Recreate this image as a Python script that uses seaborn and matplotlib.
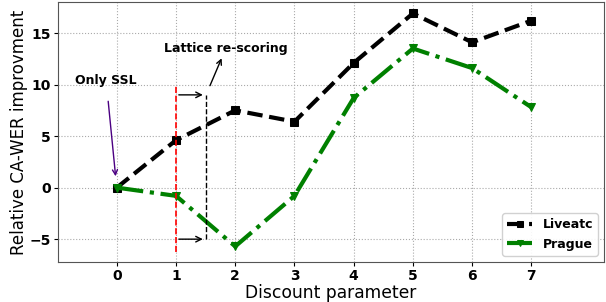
import numpy as np
import matplotlib
matplotlib.use("Agg")
import matplotlib.pyplot as plt
import seaborn as sns

# discount parameter values
discount = [0, 1, 2, 3, 4, 5, 6, 7]
# relative CA-WER improvement per dataset
liveatc = [0.0, 4.6, 7.5, 6.4, 12.1, 16.9, 14.1, 16.2]
prague = [0.0, -0.8, -5.7, -0.8, 8.7, 13.5, 11.6, 7.8]

sns.set_style("ticks")
plt.rcParams["font.family"] = ["DejaVu Sans"]
plt.rcParams.update({"text.color": "black", "axes.labelcolor": "black",
                     "xtick.color": "black", "ytick.color": "black"})

fig, ax = plt.subplots(figsize=(6.06, 3.02), dpi=100)

sns.lineplot(x=discount, y=liveatc, ax=ax, color="black", linestyle="--",
             linewidth=3, marker="s", markersize=6, markeredgecolor="black",
             label="Liveatc")
sns.lineplot(x=discount, y=prague, ax=ax, color="green", linestyle="-.",
             linewidth=3, marker="v", markersize=6, markeredgecolor="green",
             label="Prague")

# rescoring markers
ax.vlines(1, -6.2, 10, colors="red", linestyles="--", linewidth=1.2)
ax.vlines(1.5, -5, 9, colors="black", linestyles="--", linewidth=1)
ax.annotate("", xy=(1.5, 9), xytext=(1, 9),
            arrowprops=dict(arrowstyle="->", color="black", lw=1))
ax.annotate("", xy=(1.5, -5), xytext=(1, -5),
            arrowprops=dict(arrowstyle="->", color="black", lw=1))
ax.annotate("Lattice re-scoring", xy=(1.5, 8.9), xytext=(1.84, 13.5),
            ha="center", va="center", fontsize=9, fontweight="bold",
            arrowprops=dict(arrowstyle="<-", color="black", lw=1,
                            shrinkA=0, shrinkB=8))
ax.annotate("Only SSL", xy=(-0.02, 1.1), xytext=(-0.18, 10.4),
            ha="center", va="center", fontsize=9, fontweight="bold",
            arrowprops=dict(arrowstyle="->", color="indigo", lw=1,
                            shrinkA=8, shrinkB=0))

ax.set_xlim(-1, 8.23)
ax.set_ylim(-7.2, 18)
ax.set_xticks(discount)
ax.set_yticks([-5, 0, 5, 10, 15])
ax.grid(True, linestyle=":", color="#aaaaaa", linewidth=0.8)
ax.set_axisbelow(True)
for lbl in ax.get_xticklabels() + ax.get_yticklabels():
    lbl.set_fontweight("bold")
ax.tick_params(labelsize=10, length=3, pad=2)
for s in ax.spines.values():
    s.set_color("#555555")

ax.set_xlabel("Discount parameter", fontsize=12.3, labelpad=1)
ax.set_ylabel("Relative CA-WER improvment", fontsize=12, labelpad=1)

ax.legend(loc="lower right", prop={"weight": "bold", "size": 9},
          markerscale=0.7, framealpha=0.9)

fig.subplots_adjust(left=0.095, right=0.997, top=0.993, bottom=0.133)
fig.savefig("out.png", dpi=100)
